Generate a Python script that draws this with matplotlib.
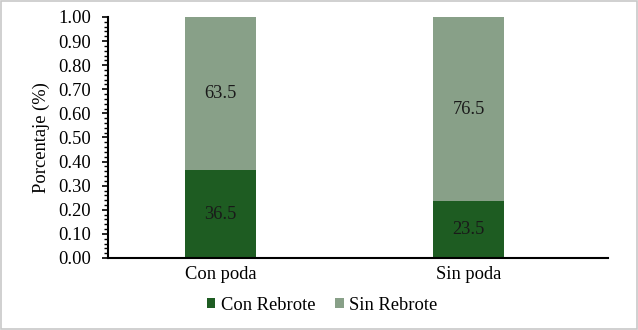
import matplotlib.pyplot as plt
from matplotlib.ticker import MultipleLocator
from matplotlib.patches import Rectangle

plt.rcParams['font.family'] = ['Liberation Serif', 'DejaVu Serif']

categories = ['Con poda', 'Sin poda']
con_rebrote = [36.5, 23.5]
sin_rebrote = [63.5, 76.5]
series_names = ['Con Rebrote', 'Sin Rebrote']
colors = ['#1e5c22', '#88a088']

fig = plt.figure(figsize=(6.38, 3.30), dpi=100)
ax = fig.add_axes([0.1693, 0.2182, 0.953 - 0.1693, 0.9485 - 0.2182])

x = list(range(len(categories)))
frac_con = [v / 100 for v in con_rebrote]
frac_sin = [v / 100 for v in sin_rebrote]
width = 0.286
fs = 13.3

ax.bar(x, frac_con, width, color=colors[0], label=series_names[0])
ax.bar(x, frac_sin, width, bottom=frac_con, color=colors[1], label=series_names[1])

for i in x:
    ax.text(i, frac_con[i] / 2, f'{con_rebrote[i]:.1f}', ha='center', va='center', fontsize=fs, color='#1a1a1a')
    ax.text(i, frac_con[i] + frac_sin[i] / 2, f'{sin_rebrote[i]:.1f}', ha='center', va='center', fontsize=fs, color='#1a1a1a')

ax.set_xlim(-0.453, 1.56)
ax.set_ylim(0, 1.0)
ax.yaxis.set_major_locator(MultipleLocator(0.1))
ax.yaxis.set_minor_locator(MultipleLocator(0.02))
ax.yaxis.set_major_formatter(plt.FuncFormatter(lambda v, p: f'{v:.2f}'))
ax.tick_params(axis='y', which='major', direction='out', length=4, width=1.2, labelsize=fs, pad=8)
ax.tick_params(axis='y', which='minor', direction='out', length=3, width=1)
ax.tick_params(axis='x', length=0, labelsize=fs, pad=6)
ax.set_xticks(x)
ax.set_xticklabels(categories)

for s in ['top', 'right']:
    ax.spines[s].set_visible(False)
ax.spines['left'].set_linewidth(1.5)
ax.spines['bottom'].set_linewidth(1.5)

ax.set_ylabel('Porcentaje (%)', fontsize=fs, labelpad=6)

ax.legend(loc='center', bbox_to_anchor=(0.505, 0.075), bbox_transform=fig.transFigure,
          ncol=2, frameon=False, prop={'family': ['Liberation Serif'], 'size': fs},
          handlelength=0.45, handleheight=0.45, handletextpad=0.3, columnspacing=1.1)

fig.patches.append(Rectangle((0.001, 0.004), 0.997, 0.994, transform=fig.transFigure,
                             fill=False, edgecolor='#c8c8c8', linewidth=1.2))

fig.savefig('out.png', dpi=100)
